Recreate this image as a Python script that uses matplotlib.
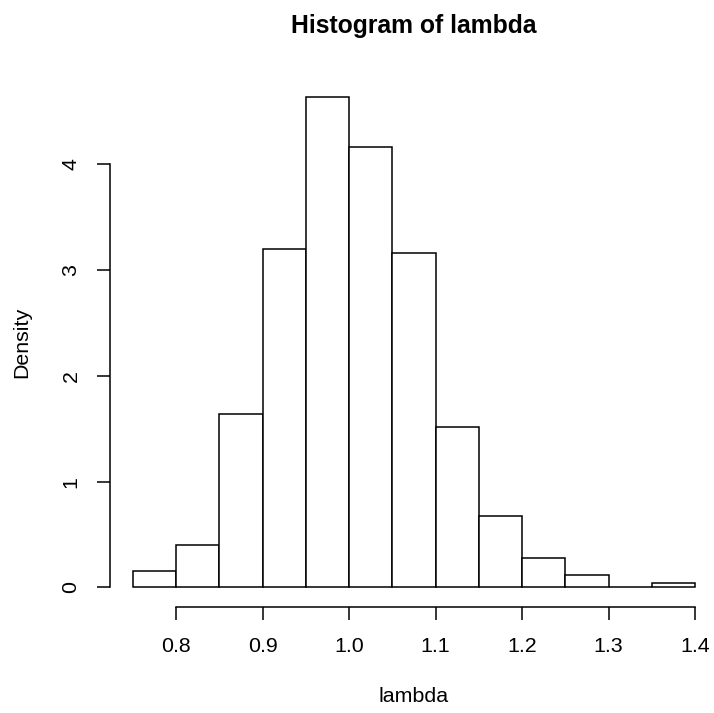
import matplotlib
matplotlib.use("Agg")
import matplotlib.pyplot as plt
import numpy as np

# histogram of lambda (density scale), bins of width 0.05
bin_left = [0.75, 0.80, 0.85, 0.90, 0.95, 1.00, 1.05, 1.10, 1.15, 1.20, 1.25, 1.30, 1.35]
density = [0.16, 0.40, 1.64, 3.20, 4.64, 4.16, 3.16, 1.52, 0.68, 0.28, 0.12, 0.00, 0.04]
bin_width = 0.05
x_ticks = [0.8, 0.9, 1.0, 1.1, 1.2, 1.3, 1.4]
y_ticks = [0, 1, 2, 3, 4]

plt.rcParams["font.family"] = ["Liberation Sans", "DejaVu Sans"]
W, H = 714, 713
fig = plt.figure(figsize=(W / 100, H / 100), dpi=100)

# plot region in pixels (R-style margins)
left, right, top, bottom = 110.3, 717.5, 76.9, 607.1
ax = fig.add_axes([left / W, 1 - bottom / H, (right - left) / W, (bottom - top) / H])

lw = 1.1
fs = 15.4
ax.bar(bin_left, density, width=bin_width, align="edge",
       facecolor="white", edgecolor="black", linewidth=lw)

xmin, xmax = bin_left[0], bin_left[-1] + bin_width
dx = (xmax - xmin) * 0.04
ax.set_xlim(xmin - dx, xmax + dx)
ymax = max(density)
ax.set_ylim(-ymax * 0.04, ymax * 1.04)

for s in ("top", "right"):
    ax.spines[s].set_visible(False)
ax.spines["left"].set_bounds(y_ticks[0], y_ticks[-1])
ax.spines["bottom"].set_bounds(x_ticks[0], x_ticks[-1])
for s in ("left", "bottom"):
    ax.spines[s].set_linewidth(lw)

ax.set_xticks(x_ticks)
ax.set_xticklabels([f"{v:.1f}" for v in x_ticks])
ax.set_yticks(y_ticks)
ax.set_yticklabels([str(v) for v in y_ticks], rotation=90, va="center")
ax.tick_params(direction="out", length=9.4, width=lw, labelsize=fs, pad=12)

fig.text(((left + right) / 2) / W, 1 - 26 / H, "Histogram of lambda",
         ha="center", va="center", fontsize=17.8, fontweight="bold")
fig.text(((left + right) / 2) / W, 1 - 697 / H, "lambda",
         ha="center", va="center", fontsize=fs)
fig.text(22 / W, 1 - ((top + bottom) / 2) / H, "Density",
         ha="center", va="center", rotation=90, fontsize=fs)

fig.savefig("out.png", dpi=100)
